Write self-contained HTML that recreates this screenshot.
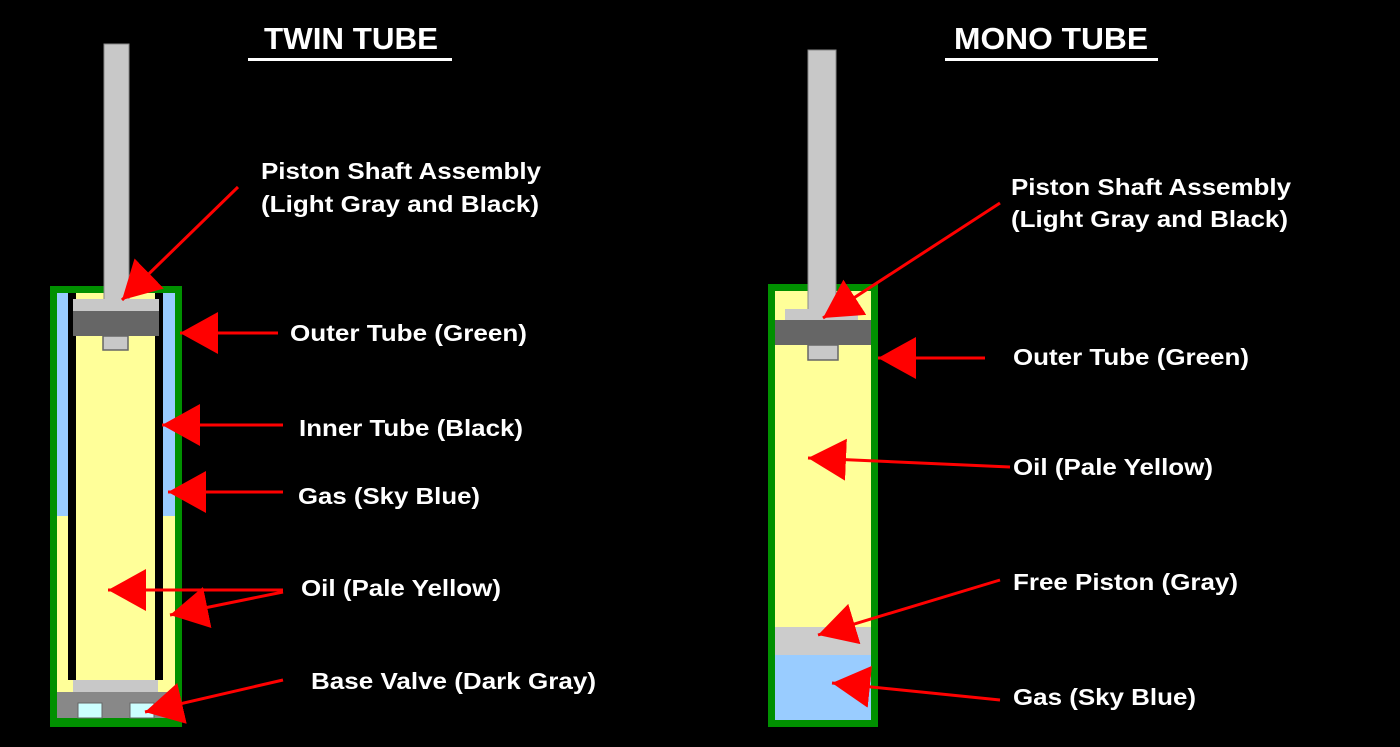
<!DOCTYPE html>
<html><head><style>html,body{margin:0;padding:0;background:#000;}svg{display:block;}</style></head>
<body>
<svg width="1400" height="747" viewBox="0 0 1400 747" xmlns="http://www.w3.org/2000/svg">
<defs>
<marker id="ah" markerUnits="userSpaceOnUse" markerWidth="46" markerHeight="46" refX="38" refY="21" orient="auto">
<polygon points="0,0 38,21 0,42" fill="#ff0000"/>
</marker>
</defs>
<rect width="1400" height="747" fill="#000"/>
<!-- Twin tube -->
<rect x="50" y="286" width="132" height="441" fill="#009000"/>
<rect x="57" y="293" width="118" height="425" fill="#99ccff"/>
<rect x="57" y="516" width="118" height="202" fill="#ffff99"/>
<rect x="68" y="293" width="95" height="387" fill="#000"/>
<rect x="76" y="293" width="79" height="387" fill="#ffff99"/>
<rect x="104" y="44" width="25" height="260" fill="#c8c8c8" stroke="#888" stroke-width="1"/>
<rect x="73" y="299" width="86" height="13" fill="#c8c8c8"/>
<rect x="73" y="311" width="86" height="25" fill="#666"/>
<rect x="103" y="336" width="25" height="14" fill="#c8c8c8" stroke="#666" stroke-width="1.5"/>
<rect x="73" y="680" width="85" height="12" fill="#c8c8c8"/>
<rect x="57" y="692" width="118" height="26" fill="#888"/>
<rect x="78" y="703" width="24" height="15" fill="#ccffff" stroke="#666"/>
<rect x="130" y="703" width="24" height="15" fill="#ccffff" stroke="#666"/>
<!-- Mono tube -->
<rect x="768" y="284" width="110" height="443" fill="#009000"/>
<rect x="775" y="291" width="96" height="429" fill="#ffff99"/>
<rect x="808" y="50" width="28" height="262" fill="#c8c8c8" stroke="#888" stroke-width="1"/>
<rect x="785" y="309" width="73" height="12" fill="#c8c8c8"/>
<rect x="775" y="320" width="96" height="25" fill="#666"/>
<rect x="808" y="345" width="30" height="15" fill="#c8c8c8" stroke="#666" stroke-width="1.5"/>
<rect x="775" y="627" width="96" height="28" fill="#cccccc"/>
<rect x="775" y="655" width="96" height="65" fill="#99ccff"/>
<!-- Arrows -->
<g stroke="#ff0000" stroke-width="3" marker-end="url(#ah)">
<line x1="238" y1="187" x2="122" y2="300"/>
<line x1="278" y1="333" x2="180" y2="333"/>
<line x1="283" y1="425" x2="162" y2="425"/>
<line x1="283" y1="492" x2="168" y2="492"/>
<line x1="283" y1="590" x2="108" y2="590"/>
<line x1="283" y1="592" x2="170" y2="615"/>
<line x1="283" y1="680" x2="145" y2="712"/>
<line x1="1000" y1="203" x2="823" y2="318"/>
<line x1="985" y1="358" x2="878" y2="358"/>
<line x1="1010" y1="467" x2="808" y2="458"/>
<line x1="1000" y1="580" x2="818" y2="635"/>
<line x1="1000" y1="700" x2="832" y2="683"/>
</g>
<!-- Text -->
<g fill="#fff" font-family="Liberation Sans, sans-serif" font-weight="bold">
<text x="264" y="49" font-size="31" textLength="174" lengthAdjust="spacingAndGlyphs">TWIN TUBE</text>
<text x="954" y="49" font-size="31" textLength="194" lengthAdjust="spacingAndGlyphs">MONO TUBE</text>
<g font-size="23">
<text x="261" y="179" textLength="280" lengthAdjust="spacingAndGlyphs">Piston Shaft Assembly</text>
<text x="261" y="212" textLength="278" lengthAdjust="spacingAndGlyphs">(Light Gray and Black)</text>
<text x="290" y="341" textLength="237" lengthAdjust="spacingAndGlyphs">Outer Tube (Green)</text>
<text x="299" y="436" textLength="224" lengthAdjust="spacingAndGlyphs">Inner Tube (Black)</text>
<text x="298" y="504" textLength="182" lengthAdjust="spacingAndGlyphs">Gas (Sky Blue)</text>
<text x="301" y="596" textLength="200" lengthAdjust="spacingAndGlyphs">Oil (Pale Yellow)</text>
<text x="311" y="689" textLength="285" lengthAdjust="spacingAndGlyphs">Base Valve (Dark Gray)</text>
<text x="1011" y="195" textLength="280" lengthAdjust="spacingAndGlyphs">Piston Shaft Assembly</text>
<text x="1011" y="227" textLength="277" lengthAdjust="spacingAndGlyphs">(Light Gray and Black)</text>
<text x="1013" y="365" textLength="236" lengthAdjust="spacingAndGlyphs">Outer Tube (Green)</text>
<text x="1013" y="475" textLength="200" lengthAdjust="spacingAndGlyphs">Oil (Pale Yellow)</text>
<text x="1013" y="590" textLength="225" lengthAdjust="spacingAndGlyphs">Free Piston (Gray)</text>
<text x="1013" y="705" textLength="183" lengthAdjust="spacingAndGlyphs">Gas (Sky Blue)</text>
</g>
</g>
<rect x="248" y="58" width="204" height="3" fill="#fff"/>
<rect x="945" y="58" width="213" height="3" fill="#fff"/>
</svg>
</body></html>
